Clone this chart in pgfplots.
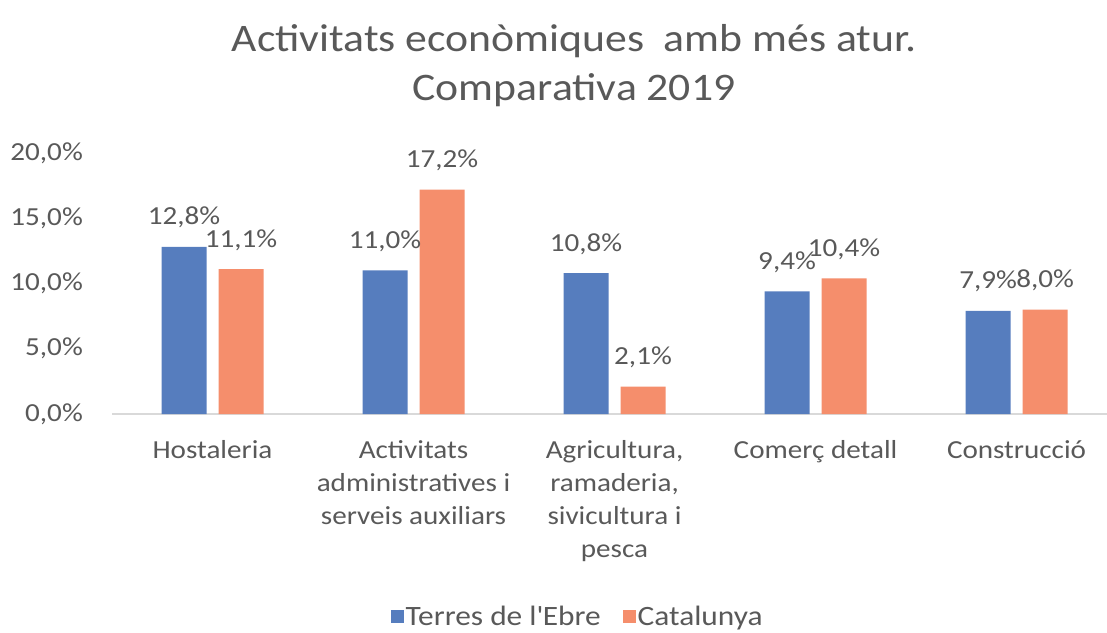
\documentclass[border=0pt]{standalone}
\usepackage{pgfplots}
\pgfplotsset{compat=1.18}
\usepackage{fontspec}
\setmainfont{Carlito}[FakeStretch=1.12]
\definecolor{cblue}{RGB}{86,125,190}
\definecolor{corange}{RGB}{245,142,108}
\definecolor{tgrey}{RGB}{89,89,89}
\begin{document}
\begin{tikzpicture}[x=1pt,y=1pt]
\path[use as bounding box] (0,0) rectangle (1107,632);
\node[align=center, text=tgrey, font=\fontsize{39}{49}\selectfont] at (574,566) {Activitats econòmiques~ amb més atur.\\Comparativa 2019};
\begin{axis}[
  at={(112pt,218pt)}, anchor=south west,
  width=995pt, height=261pt, scale only axis,
  xmin=-0.5, xmax=4.45, ymin=0, ymax=20,
  ytick={0,5,10,15,20},
  xtick={0,1,2,3,4},
  xticklabels={Hostaleria,{Activitats\\administratives i\\serveis auxiliars},{Agricultura,\\ramaderia,\\sivicultura i\\pesca},Comerç detall,Construcció},
  ybar, bar width=45pt,
  axis line style={draw=none}, tick style={draw=none},
  extra y ticks={0}, extra y tick labels={},
  extra y tick style={grid=major, major grid style={draw=black!15, line width=1.5pt}},
  /pgf/number format/assume math mode=true,
  yticklabel={\pgfmathprintnumber[fixed,fixed zerofill,precision=1,use comma]{\tick}\%},
  yticklabel style={font=\fontsize{26}{30}\selectfont, text=tgrey, anchor=east, inner sep=0pt, xshift=-29pt},
  xticklabel style={font=\fontsize{26}{33}\selectfont, text=tgrey, align=center, anchor=north, inner sep=0pt, yshift=-22pt},
  nodes near coords={\pgfmathprintnumber[fixed,fixed zerofill,precision=1,use comma]{\pgfplotspointmeta}\%},
  every node near coord/.append style={font=\fontsize{26}{30}\selectfont, text=tgrey, anchor=base, inner sep=0pt, yshift=22pt},
  legend style={at={(0.468,-0.775)}, anchor=center, draw=none, legend columns=2, font=\fontsize{28}{30}\selectfont, text=tgrey, inner sep=1pt, /tikz/every even column/.append style={column sep=20pt}},
  legend image code/.code={\fill[#1] (0pt,-6.5pt) rectangle (13pt,6.5pt);},
]
\addplot[fill=cblue, draw=none, bar shift=-28.5pt] coordinates {(0,12.8) (1,11.0) (2,10.8) (3,9.4) (4,7.9)};
\addlegendentry{Terres de l\textquotesingle Ebre}
\addplot[fill=corange, draw=none, bar shift=28.5pt] coordinates {(0,11.1) (1,17.2) (2,2.1) (3,10.4) (4,8.0)};
\addlegendentry{Catalunya}
\end{axis}
\end{tikzpicture}
\end{document}
